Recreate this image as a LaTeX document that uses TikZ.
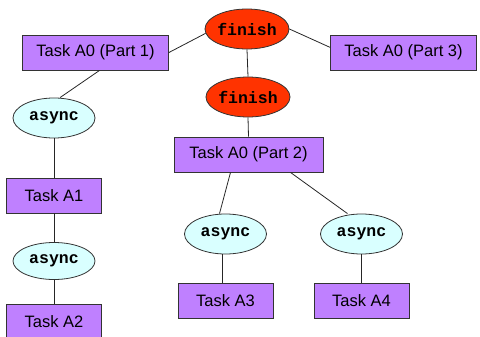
\documentclass[tikz,border=0pt]{standalone}
\usepackage{fontspec}
\setmainfont{Liberation Sans}
\newfontfamily\codefont{Liberation Mono}
\usepackage{tikz}
\usetikzlibrary{shapes.geometric}

\definecolor{taskpurple}{HTML}{BF80FF}
\definecolor{asynccyan}{HTML}{D9FFFF}
\definecolor{finishred}{HTML}{FF3300}

\begin{document}
\begin{tikzpicture}[x=1pt, y=1pt,
	task/.style={draw=black!80, line width=0.9pt, fill=taskpurple, minimum width=95pt, minimum height=35pt, inner sep=0pt, font=\fontsize{16.5}{18}\selectfont},
	wide/.style={task, minimum width=146pt},
	asyncnode/.style={ellipse, draw=black!80, line width=0.8pt, fill=asynccyan, minimum width=82pt, minimum height=40pt, inner sep=0pt, font=\codefont\bfseries\fontsize{16.5}{18}\selectfont},
	finishnode/.style={asyncnode, fill=finishred},
	link/.style={black!85, line width=0.8pt}]
	\useasboundingbox (0,0) rectangle (480,-337);

	% Finish blocks
	\node [finishnode] (fin1) at (247,-29) {finish};
	\node [finishnode] (fin2) at (248,-97) {finish};

	% Parts of task A0
	\node [wide] (p1) at (95.5,-52.5) {Task A0 (Part 1)};
	\node [wide] (p3) at (403.5,-52.5) {Task A0 (Part 3)};
	\node [wide, minimum width=149pt] (p2) at (248.5,-154.5) {Task A0 (Part 2)};

	% Left chain
	\node [asyncnode] (as1) at (54,-118) {async};
	\node [task] (ta1) at (54,-195.5) {Task A1};
	\node [asyncnode, minimum height=37pt] (as2) at (54,-261) {async};
	\node [task] (ta2) at (54,-321.5) {Task A2};

	% Inside second finish
	\node [asyncnode] (as3) at (225.5,-234) {async};
	\node [task] (ta3) at (225.5,-300.5) {Task A3};
	\node [asyncnode] (as4) at (361.5,-234) {async};
	\node [task] (ta4) at (361.5,-300.5) {Task A4};

	% Links
	\draw [link] (p1.east) -- (fin1.186);
	\draw [link] (fin1.east) -- (p3.176);
	\draw [link] (fin1.south) -- (fin2.north);
	\draw [link] (fin2.south) -- (p2.north);
	\draw [link] ([xshift=4pt]p1.south) -- ([xshift=6pt]as1.north);
	\draw [link] (as1.south) -- (ta1.north);
	\draw [link] (ta1.south) -- (as2.north);
	\draw [link] (as2.south) -- (ta2.north);
	\draw [link] ([xshift=-18pt]p2.south) -- ([xshift=-6pt]as3.north);
	\draw [link] ([xshift=42pt]p2.south) -- ([xshift=-14pt]as4.north);
	\draw [link] ([xshift=-3pt]as3.south) -- ([xshift=-3pt]ta3.north);
	\draw [link] (as4.south) -- (ta4.north);
\end{tikzpicture}
\end{document}
